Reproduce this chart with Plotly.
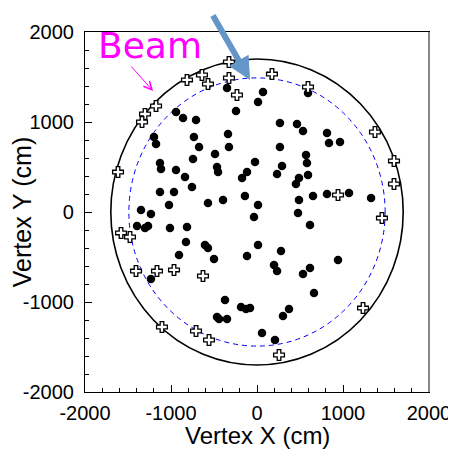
import plotly.graph_objects as go

# ---- data (cm) ----
dot_x = [-349, 70, 12, -244, -942, -860, -709, 267, 465, 535, 814, 837, 965, 593,
         -1198, -1174, -733, -674, -337, -326, -488, -744, -1128, -1116, -942, -837,
         -465, -453, -23, -116, -174, 233, 267, 570, 581, 291, 488, 593, 453, 651,
         814, 1070, 1326, 488, 477, 616, -756, -1128, -965, -1023, -570, -395, -140,
         12, -35, -1349, -1233, -1395, -1267, -1302, -1012, -814, -826, -605, -570,
         -907, -500, -116, 12, 279, 198, 233, 942, 616, 535, 663, -1233, -372, -186,
         -128, -81, -465, -442, -349, 372, 302, 58, 209]
dot_y = [1378, 1333, 1222, 1122, 1111, 1044, 1022, 989, 978, 900, 878, 767, 778, 1322,
         833, 756, 833, 722, 867, 722, 644, 589, 544, 478, 467, 389,
         500, 444, 556, 444, 378, 422, 722, 633, 544, 511, 378, 411, 311, 178,
         200, 211, 156, 133, -11, -144, 278, 222, 222, 78, 100, 133, 178,
         78, -56, 22, -22, -156, -156, -178, -178, -167, -333, -367, -400,
         -478, -522, -489, -367, -433, -589, -656, -533, -622, -689, -900, -744, -978, -1056,
         -1078, -1067, -1167, -1189, -1189, -1078, -1156, -1344, -1422]

cross_x = [-326, -640, -814, -570, -326, 174, -233, 593, -1174, -1302, -1337, -1616,
           -1581, -1477, -1407, -1163, -965, -628, -1105, -709, -558, 256, 1372, 1593,
           1593, 1453, 1233, 942]
cross_y = [1667, 1522, 1467, 1422, 1489, 1533, 1300, 1389, 1178, 1089, 1000, 444,
           -233, -278, -656, -656, -644, -711, -1278, -1322, -1422, -1589, 889, 567,
           311, -67, -1067, 189]

outer_radius = 1700   # detector wall
inner_radius = 1490   # fiducial boundary

tick_vals = [-2000, -1000, 0, 1000, 2000]
tick_text = ["-2000", "-1000", "0", "1000", "2000"]

font_main = "Liberation Sans, Arial, Helvetica, sans-serif"

fig = go.Figure()

fig.add_trace(go.Scatter(
    x=dot_x, y=dot_y, mode="markers",
    marker=dict(symbol="circle", size=8.5, color="black"),
    showlegend=False, hoverinfo="skip"))

fig.add_trace(go.Scatter(
    x=cross_x, y=cross_y, mode="markers",
    marker=dict(symbol="cross", size=9, color="white",
                line=dict(color="black", width=1.3)),
    showlegend=False, hoverinfo="skip"))

fig.add_shape(type="circle", xref="x", yref="y",
              x0=-outer_radius, x1=outer_radius, y0=-outer_radius, y1=outer_radius,
              line=dict(color="black", width=1.6), layer="below")
fig.add_shape(type="circle", xref="x", yref="y",
              x0=-inner_radius, x1=inner_radius, y0=-inner_radius, y1=inner_radius,
              line=dict(color="blue", width=1, dash="5px,4px"), layer="below")

# gray right frame edge
fig.add_shape(type="line", xref="paper", yref="paper", x0=1, x1=1, y0=0, y1=1,
              line=dict(color="#888888", width=2))

axis_common = dict(
    range=[-2000, 2000], tickmode="array", tickvals=tick_vals, ticktext=tick_text,
    ticks="inside", ticklen=7, tickwidth=1, tickcolor="black",
    minor=dict(ticks="inside", ticklen=4, tickwidth=1, tickcolor="black",
               tickmode="linear", tick0=0, dtick=200),
    showline=True, linecolor="black", linewidth=1.2, mirror=True,
    showgrid=False, zeroline=False, fixedrange=True, automargin=False,
    tickfont=dict(family=font_main, size=20, color="black"),
)

# page body has an 8px margin, so the figure is 8px smaller and margins shifted
fig.update_layout(
    width=448, height=442,
    margin=dict(l=77, r=27, t=24, b=58),
    paper_bgcolor="white", plot_bgcolor="white",
    xaxis=dict(**axis_common, ticklabelstandoff=3),
    yaxis=dict(**axis_common,
               title=dict(text="Vertex Y (cm)", font=dict(family=font_main, size=25, color="black"),
                          standoff=0),
               ticklabelstandoff=6),
    annotations=[
        dict(text="Vertex X (cm)", xref="paper", yref="paper", x=0.5, y=-0.122,
             xanchor="center", yanchor="middle", showarrow=False,
             font=dict(family=font_main, size=24, color="black")),
        dict(text="Beam", xref="paper", yref="paper", x=0.189, y=0.962,
             xanchor="center", yanchor="middle", showarrow=False,
             font=dict(family="DejaVu Sans, sans-serif", size=36, color="#ff00ff")),
        dict(text="", xref="x", yref="y", x=-1209, y=1344, ax=-23, ay=-26,
             showarrow=True, arrowhead=5, arrowsize=1.6, arrowwidth=1, arrowcolor="#ff00ff"),
        dict(text="", xref="x", yref="y", x=-81, y=1467, ax=-38, ay=-66,
             showarrow=True, arrowhead=2, arrowsize=0.75, arrowwidth=6, arrowcolor="#6496c8"),
    ],
)

fig.write_html("out.html")
